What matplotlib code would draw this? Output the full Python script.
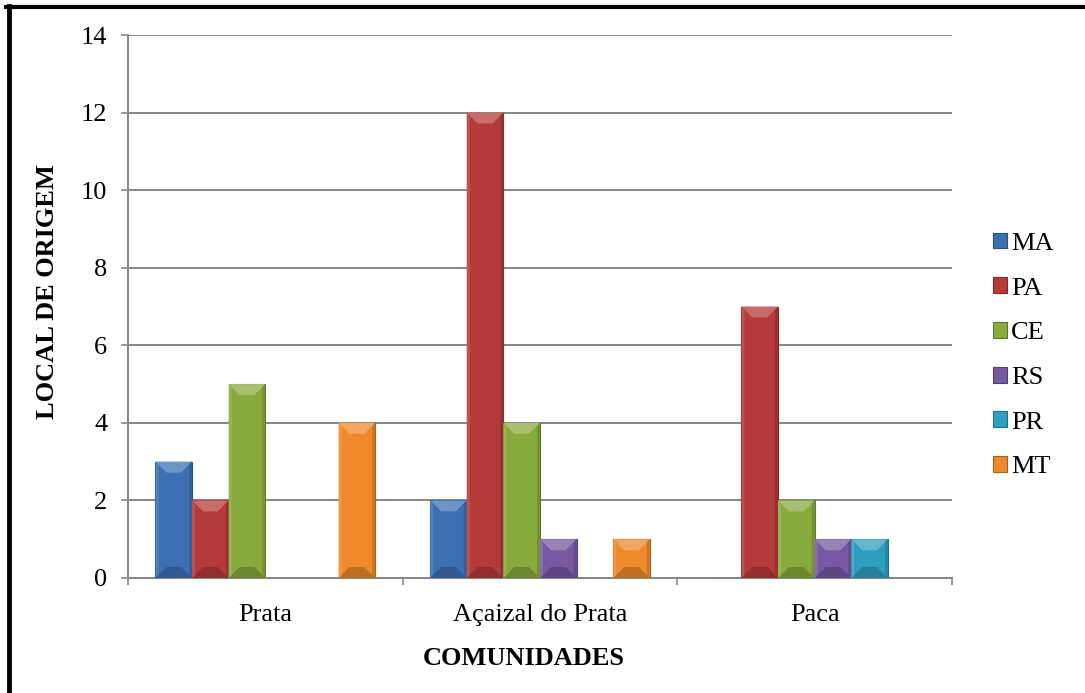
import numpy as np
import matplotlib.pyplot as plt
from matplotlib.patches import Polygon, Patch
from matplotlib.lines import Line2D
from matplotlib.colors import to_rgb

# Datos
comunidades = ['Prata', 'Açaizal do Prata', 'Paca']
estados = ['MA', 'PA', 'CE', 'RS', 'PR', 'MT']
ma = [3, 2, 0]
pa = [2, 12, 7]
ce = [5, 4, 2]
rs = [0, 1, 1]
pr = [0, 0, 1]
mt = [4, 1, 0]
series = [ma, pa, ce, rs, pr, mt]
cores = ['#3c70b3', '#b53a3a', '#89aa3d', '#7659a0', '#2f9fbf', '#ee8a2c']
yticks = [0, 2, 4, 6, 8, 10, 12, 14]

plt.rcParams['font.family'] = ['Liberation Serif', 'DejaVu Serif']
W, H = 1085, 693
fig = plt.figure(figsize=(W / 100, H / 100), dpi=100)
ax = fig.add_axes([128 / W, 1 - 578 / H, (952 - 128) / W, (578 - 35) / H])

def mistura(c, alvo, f):
    c = np.array(to_rgb(c))
    return tuple(c + (np.array(alvo) - c) * f)

x = np.arange(len(comunidades))
n = len(series)
larg = 0.8 / n
barras = []
for i, (vals, cor) in enumerate(zip(series, cores)):
    pos = x - 0.4 + larg * (i + 0.5)
    b = ax.bar(pos, vals, width=larg, color=cor, edgecolor=mistura(cor, (0, 0, 0), 0.3),
               linewidth=0.8, zorder=3)
    barras.append((b, cor))

ax.set_xlim(-0.5, 2.5)
ax.set_ylim(0, 14)

# efeito de chanfro nas barras
fig.canvas.draw()
inv = ax.transData.inverted()
for b, cor in barras:
    for p in b.patches:
        h = p.get_height()
        if h <= 0:
            continue
        x0, y0 = p.get_x(), p.get_y()
        x1, y1 = x0 + p.get_width(), y0 + h
        (px0, py0), (px1, py1) = ax.transData.transform([(x0, y0), (x1, y1)])
        d = min(11, (py1 - py0) / 2.5)
        e = 3
        pts = lambda L: [tuple(inv.transform(q)) for q in L]
        topo = pts([(px0, py1), (px1, py1), (px1 - d, py1 - d), (px0 + d, py1 - d)])
        base = pts([(px0, py0), (px1, py0), (px1 - d, py0 + d), (px0 + d, py0 + d)])
        esq = pts([(px0, py0), (px0 + e, py0 + e), (px0 + e, py1 - e), (px0, py1)])
        dir_ = pts([(px1, py0), (px1 - e, py0 + e), (px1 - e, py1 - e), (px1, py1)])
        ax.add_patch(Polygon(topo, closed=True, color=mistura(cor, (1, 1, 1), 0.25), lw=0, zorder=4))
        ax.add_patch(Polygon(base, closed=True, color=mistura(cor, (0, 0, 0), 0.2), lw=0, zorder=4))
        ax.add_patch(Polygon(esq, closed=True, color=mistura(cor, (1, 1, 1), 0.12), lw=0, zorder=4))
        ax.add_patch(Polygon(dir_, closed=True, color=mistura(cor, (0, 0, 0), 0.15), lw=0, zorder=4))

fs = 19
ax.set_xticks([-0.5, 0.5, 1.5, 2.5])
ax.set_xticklabels([])
ax.set_xticks(x, comunidades, minor=True)
ax.tick_params(axis='x', which='minor', length=0, labelsize=fs, pad=19)
ax.tick_params(axis='x', which='major', length=5, width=1.2, color='#868686', direction='out')
ax.set_yticks(yticks)
ax.tick_params(axis='y', length=5, width=1.2, color='#868686', direction='out', labelsize=fs, pad=10)

ax.grid(axis='y', color='#868686', linewidth=1.4, zorder=0)
ax.set_axisbelow(True)
for s in ['top', 'right']:
    ax.spines[s].set_visible(False)
for s in ['left', 'bottom']:
    ax.spines[s].set_color('#868686')
    ax.spines[s].set_linewidth(1.4)

ax.set_xlabel('COMUNIDADES', fontsize=fs, fontweight='bold')
ax.xaxis.set_label_coords((524 - 128) / (952 - 128), -(647 - 578) / (578 - 35))
ax.set_ylabel('LOCAL DE ORIGEM', fontsize=fs, fontweight='bold')
ax.yaxis.set_label_coords(-(128 - 59) / (952 - 128), (578 - 292) / (578 - 35))

handles = [Patch(facecolor=c, edgecolor=mistura(c, (0, 0, 0), 0.3), linewidth=0.8) for c in cores]
fig.legend(handles, estados, loc='upper left', bbox_to_anchor=(982 / W, 1 - 222 / H),
           frameon=False, fontsize=fs, handlelength=0.55, handleheight=0.55,
           handletextpad=0.15, labelspacing=0.85, borderaxespad=0)

# moldura
fig.add_artist(Line2D([6 / W, 1], [1 - 7 / H, 1 - 7 / H], transform=fig.transFigure, color='black', lw=3))
fig.add_artist(Line2D([8.5 / W, 8.5 / W], [0, 1 - 5.5 / H], transform=fig.transFigure, color='black', lw=3.5))

fig.savefig('out.png', dpi=100)
